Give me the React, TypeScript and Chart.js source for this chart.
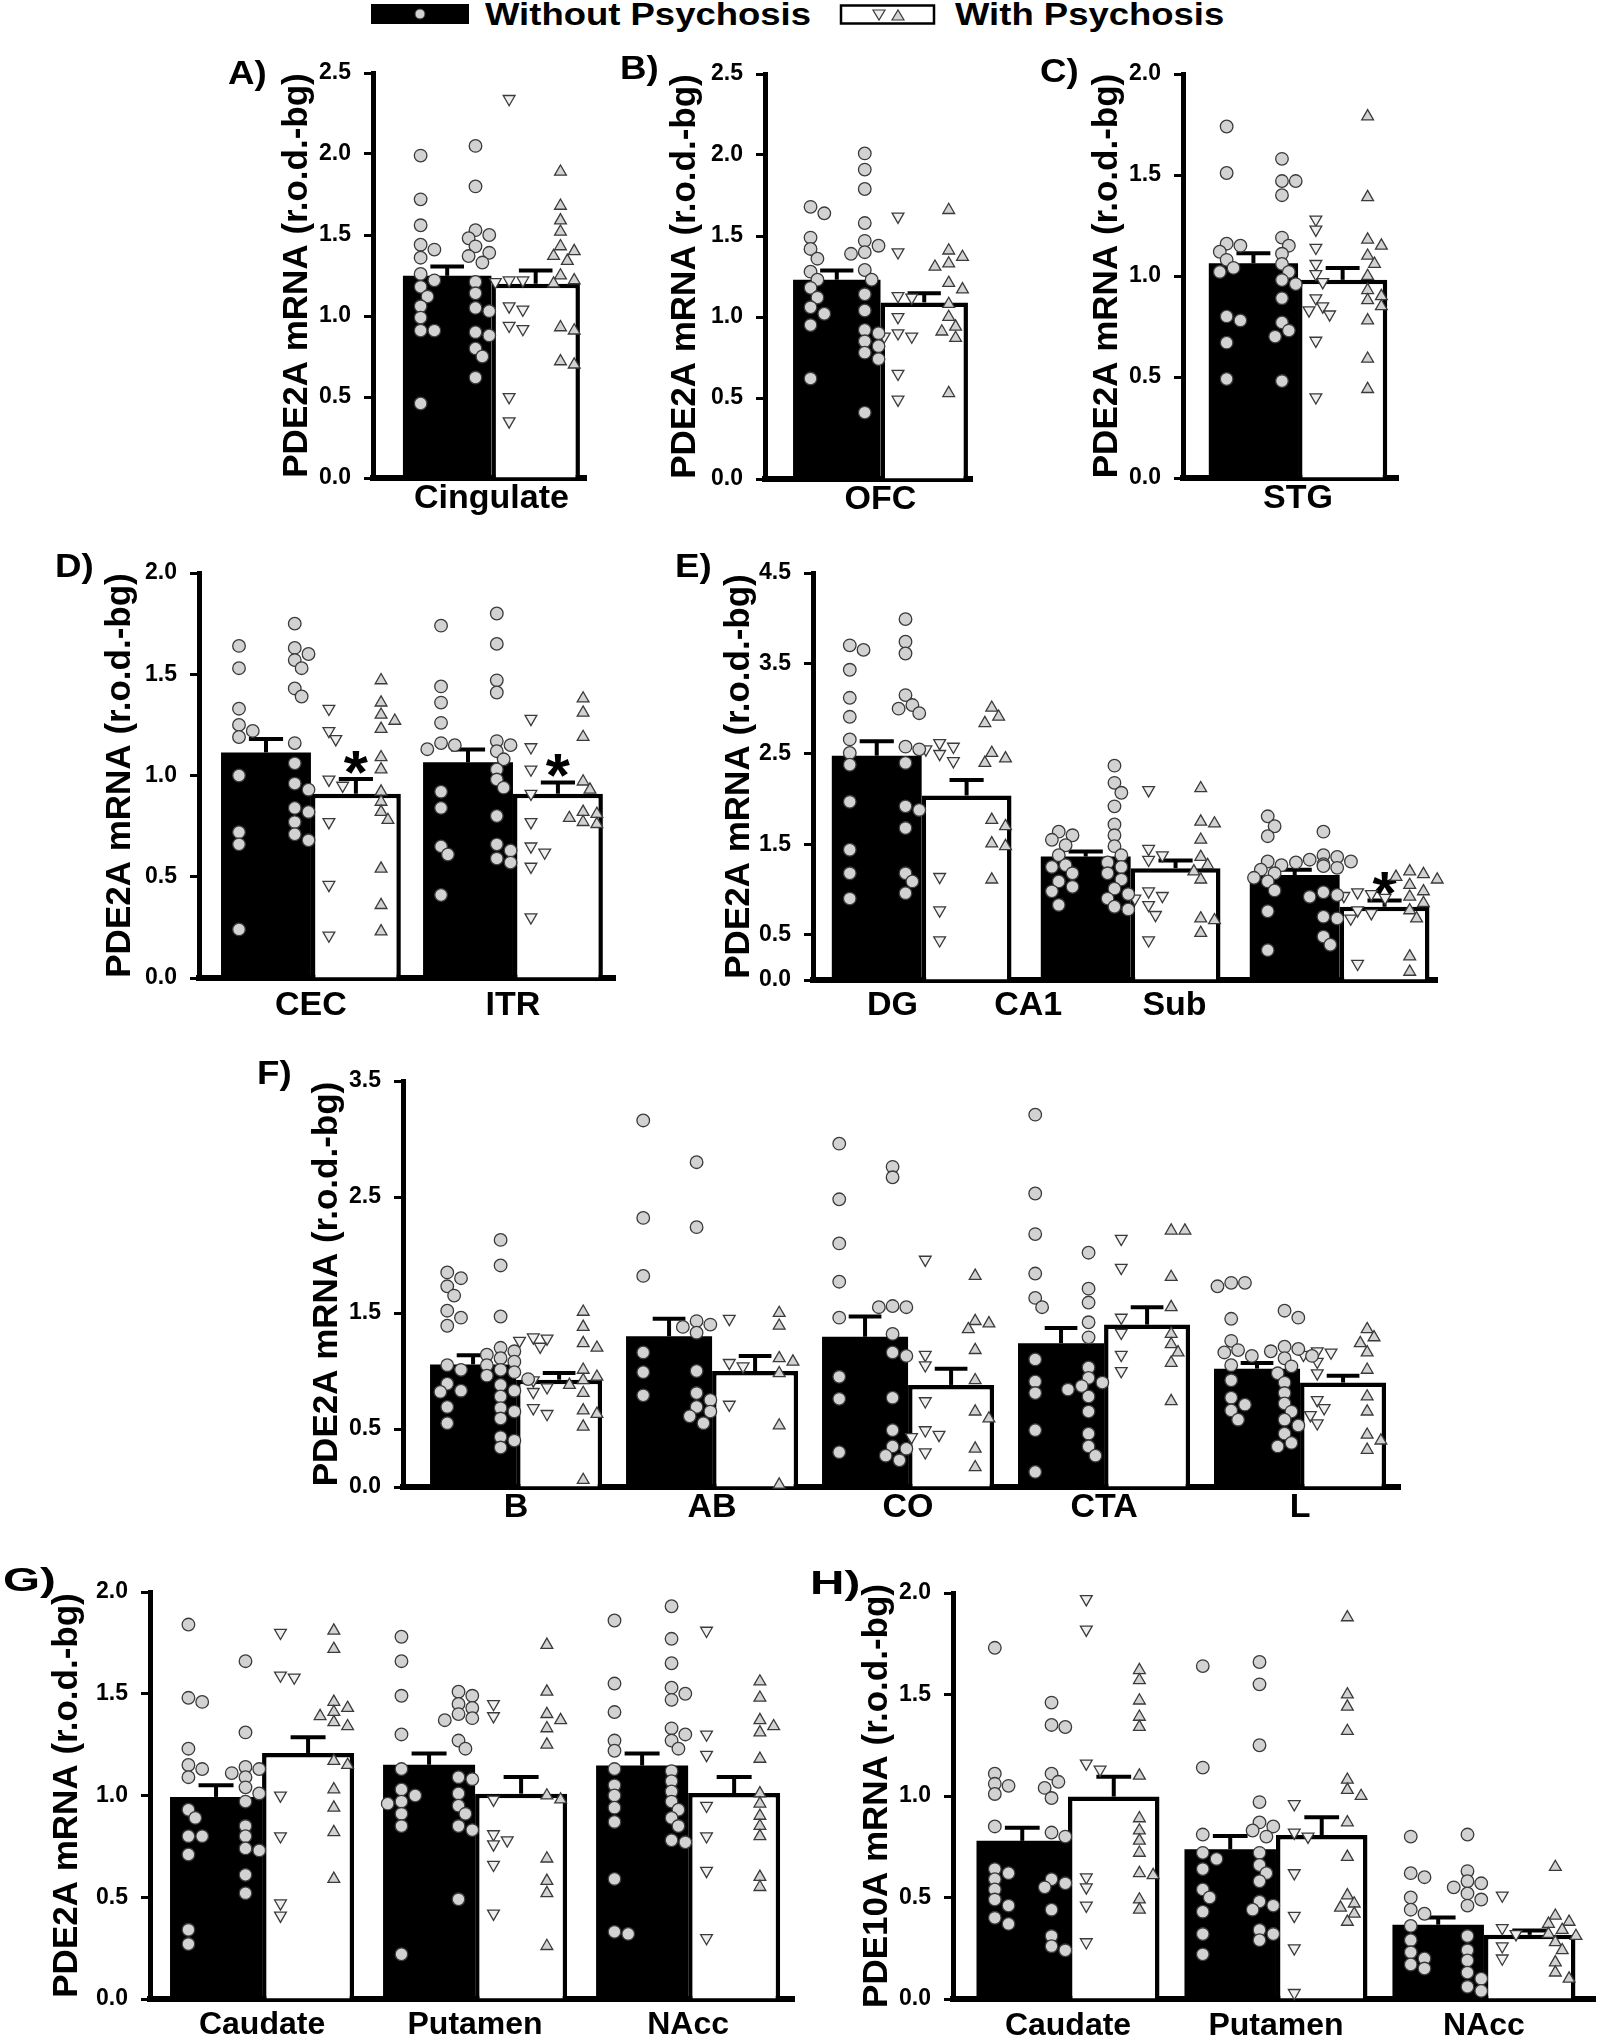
import React, { useEffect, useRef } from "react";
import { Chart, registerables } from "chart.js";
Chart.register(...registerables);

const FONT = '"Liberation Sans", Arial, Helvetica, sans-serif';

const groupWithout = "Without Psychosis";
const groupWith = "With Psychosis";
const titlePDE2A = "PDE2A mRNA (r.o.d.-bg)";
const titlePDE10A = "PDE10A mRNA (r.o.d.-bg)";

const BAR_WITHOUT = "#000000";
const BAR_WITH = "#ffffff";
const CIRCLE_FILL = "#d2d2d2";
const DOWN_FILL = "#efefef";
const UP_FILL = "#d2d2d2";
const POINT_EDGE = "#3a3a3a";

// ---------- y tick sets ----------
const ticks25 = [0, 0.5, 1.0, 1.5, 2.0, 2.5];
const ticks20 = [0, 0.5, 1.0, 1.5, 2.0];
const ticksE = [0, 0.5, 1.5, 2.5, 3.5, 4.5];
const ticksF = [0, 0.5, 1.5, 2.5, 3.5];

// ---------- A: Cingulate ----------
const catsA = ["Cingulate"];
const meanWoA = [1.248];
const semWoA = [0.058];
const meanWA = [1.199];
const semWA = [0.082];
const sigA = [false];
const circ1A = [[1.99, 1.72, 1.56, 1.44, 1.41, 1.36, 1.26, 1.22, 1.18, 1.12, 1.06, 0.99, 0.91, 0.91, 0.46]];
const circ2A = [[2.05, 1.8, 1.53, 1.5, 1.48, 1.43, 1.39, 1.37, 1.33, 1.21, 1.14, 1.05, 1.03, 0.9, 0.88, 0.8, 0.75, 0.62]];
const downA = [[2.34, 1.22, 1.22, 1.21, 1.06, 1.04, 0.94, 0.92, 0.5, 0.35]];
const upA = [[1.89, 1.68, 1.59, 1.52, 1.43, 1.4, 1.37, 1.34, 1.25, 1.22, 1.2, 0.93, 0.91, 0.72, 0.7]];

// ---------- B: OFC ----------
const catsB = ["OFC"];
const meanWoB = [1.23];
const semWoB = [0.057];
const meanWB = [1.09];
const semWB = [0.057];
const sigB = [false];
const circ1B = [[1.68, 1.64, 1.49, 1.42, 1.36, 1.28, 1.23, 1.18, 1.12, 1.06, 1.02, 0.95, 0.62]];
const circ2B = [[2.01, 1.91, 1.79, 1.58, 1.47, 1.44, 1.4, 1.39, 1.29, 1.23, 1.14, 1.04, 0.92, 0.9, 0.85, 0.82, 0.78, 0.74, 0.41]];
const downB = [[1.62, 1.4, 1.13, 1.12, 1.0, 0.9, 0.88, 0.88, 0.65, 0.49]];
const upB = [[1.66, 1.41, 1.37, 1.33, 1.31, 1.21, 1.17, 1.08, 1.0, 0.94, 0.91, 0.87, 0.53]];

// ---------- C: STG ----------
const catsC = ["STG"];
const meanWoC = [1.063];
const semWoC = [0.05];
const meanWC = [0.981];
const semWC = [0.058];
const sigC = [false];
const circ1C = [[1.74, 1.51, 1.16, 1.15, 1.12, 1.08, 1.04, 1.02, 0.8, 0.78, 0.67, 0.49]];
const circ2C = [[1.58, 1.47, 1.47, 1.4, 1.19, 1.15, 1.11, 1.06, 1.02, 0.98, 0.96, 0.89, 0.77, 0.73, 0.7, 0.48]];
const downC = [[1.28, 1.23, 1.14, 1.06, 1.01, 0.97, 0.89, 0.85, 0.83, 0.81, 0.68, 0.4]];
const upC = [[1.79, 1.39, 1.18, 1.15, 1.1, 1.06, 1.0, 0.93, 0.9, 0.88, 0.85, 0.78, 0.59, 0.44]];

// ---------- D: CEC, ITR ----------
const catsD = ["CEC", "ITR"];
const meanWoD = [1.114, 1.065];
const semWoD = [0.066, 0.063];
const meanWD = [0.91, 0.91];
const semWD = [0.073, 0.056];
const sigD = [true, true];
const circ1D = [
  [1.64, 1.53, 1.33, 1.25, 1.22, 1.19, 1.0, 0.72, 0.66, 0.24],
  [1.74, 1.44, 1.36, 1.26, 1.16, 1.15, 1.13, 0.92, 0.84, 0.65, 0.61, 0.41],
];
const circ2D = [
  [1.75, 1.63, 1.6, 1.57, 1.53, 1.43, 1.39, 1.16, 1.06, 0.96, 0.93, 0.84, 0.82, 0.77, 0.71, 0.68],
  [1.8, 1.65, 1.47, 1.41, 1.17, 1.15, 1.12, 1.08, 1.03, 0.98, 0.94, 0.8, 0.66, 0.63, 0.59, 0.57],
];
const downD = [
  [1.33, 1.22, 1.18, 0.98, 0.95, 0.77, 0.46, 0.21],
  [1.28, 1.14, 1.03, 0.91, 0.77, 0.65, 0.62, 0.55, 0.3],
];
const upD = [
  [1.47, 1.36, 1.3, 1.27, 1.23, 1.09, 1.03, 0.92, 0.87, 0.82, 0.78, 0.54, 0.36, 0.23],
  [1.38, 1.31, 1.19, 0.97, 0.93, 0.82, 0.81, 0.79, 0.77, 0.76],
];

// ---------- E: DG, CA1, Sub ----------
const catsE = ["DG", "CA1", "Sub"];
const meanWoE = [2.48, 1.365, 1.16];
const semWoE = [0.16, 0.055, 0.06];
const meanWE = [2.04, 1.236, 0.81];
const semWE = [0.17, 0.084, 0.07];
const sigE = [false, false, true];
const circ1E = [
  [3.7, 3.65, 3.43, 3.12, 2.91, 2.66, 2.51, 2.38, 1.97, 1.44, 1.18, 0.9],
  [1.64, 1.6, 1.55, 1.49, 1.38, 1.27, 1.25, 1.18, 1.09, 1.03, 0.98, 0.83],
  [1.81, 1.7, 1.59, 1.31, 1.27, 1.22, 1.18, 1.13, 1.09, 0.99, 0.76, 0.33],
];
const circ2E = [
  [3.99, 3.74, 3.61, 3.15, 3.04, 3.0, 2.95, 2.58, 2.55, 2.4, 1.92, 1.88, 1.68, 1.18, 1.09, 0.96],
  [2.37, 2.18, 2.07, 1.92, 1.72, 1.6, 1.48, 1.38, 1.3, 1.25, 1.18, 1.11, 1.01, 0.95, 0.9, 0.81, 0.78],
  [1.64, 1.38, 1.36, 1.33, 1.31, 1.3, 1.28, 1.26, 1.24, 0.97, 0.94, 0.92, 0.7, 0.68, 0.48, 0.39],
];
const downE = [
  [2.62, 2.58, 2.55, 2.5, 2.42, 1.14, 0.77, 0.44],
  [2.1, 1.45, 1.38, 1.33, 0.98, 0.93, 0.9, 0.83, 0.72, 0.44],
  [0.97, 0.95, 0.93, 0.91, 0.77, 0.74, 0.68, 0.18],
];
const upE = [
  [3.01, 2.91, 2.84, 2.51, 2.45, 2.4, 1.77, 1.7, 1.51, 1.48, 1.11],
  [2.12, 1.75, 1.73, 1.55, 1.36, 1.27, 1.2, 1.11, 0.68, 0.66, 0.52],
  [1.2, 1.17, 1.14, 1.11, 1.05, 0.98, 0.92, 0.85, 0.77, 0.68, 0.26, 0.09],
];
const labelAtE = [-0.14, 0.51, 1.21];

// ---------- F: B, AB, CO, CTA, L ----------
const catsF = ["B", "AB", "CO", "CTA", "L"];
const meanWoF = [1.057, 1.3, 1.295, 1.24, 1.02];
const semWoF = [0.078, 0.15, 0.175, 0.13, 0.05];
const meanWF = [0.925, 1.0, 0.88, 1.4, 0.9];
const semWF = [0.058, 0.13, 0.14, 0.15, 0.06];
const sigF = [false, false, false, false, false];
const circ1F = [
  [1.85, 1.8, 1.73, 1.65, 1.52, 1.46, 1.39, 1.05, 1.01, 0.89, 0.83, 0.82, 0.69, 0.55],
  [3.16, 2.32, 1.82, 1.16, 0.99, 0.79],
  [2.96, 2.48, 2.1, 1.77, 1.46, 0.95, 0.76, 0.3],
  [3.21, 2.53, 2.18, 1.84, 1.63, 1.55, 1.1, 0.91, 0.81, 0.49, 0.13],
  [1.76, 1.76, 1.73, 1.45, 1.26, 1.18, 1.16, 1.13, 1.05, 0.92, 0.77, 0.71, 0.66, 0.58],
];
const circ2F = [
  [2.13, 1.91, 1.47, 1.2, 1.17, 1.14, 1.11, 1.08, 1.05, 1.01, 0.99, 0.96, 0.93, 0.88, 0.83, 0.78, 0.68, 0.65, 0.59, 0.43, 0.4, 0.34],
  [2.8, 2.24, 1.43, 1.4, 1.38, 1.33, 1.0, 0.81, 0.75, 0.69, 0.65, 0.61, 0.55],
  [2.76, 2.67, 1.56, 1.55, 1.55, 1.32, 1.16, 1.13, 0.77, 0.49, 0.35, 0.33, 0.27, 0.23],
  [2.02, 1.71, 1.59, 1.42, 1.29, 1.03, 0.94, 0.9, 0.87, 0.84, 0.78, 0.65, 0.46, 0.35, 0.27],
  [1.52, 1.46, 1.21, 1.19, 1.17, 1.13, 1.11, 1.04, 0.98, 0.9, 0.81, 0.72, 0.65, 0.58, 0.53, 0.46, 0.38, 0.35],
];
const downF = [
  [1.29, 1.28, 1.26, 1.21, 0.92, 0.86, 0.82, 0.68, 0.63],
  [1.45, 1.07, 1.04, 0.71],
  [1.96, 1.14, 1.05, 0.74, 0.49, 0.45, 0.43, 0.3],
  [2.14, 1.89, 1.46, 1.33, 1.14, 1.0],
  [1.17, 1.16, 1.14, 1.08, 0.98, 0.75, 0.68, 0.62, 0.55],
];
const upF = [
  [1.51, 1.38, 1.24, 1.2, 1.01, 0.95, 0.92, 0.88, 0.81, 0.66, 0.63, 0.52, 0.06],
  [1.5, 1.39, 1.11, 1.08, 0.98, 0.53, 0.02],
  [1.82, 1.43, 1.41, 1.36, 1.18, 0.92, 0.65, 0.59, 0.33, 0.17],
  [2.21, 2.21, 1.81, 1.55, 1.32, 1.23, 1.16, 1.07, 0.74],
  [1.36, 1.29, 1.24, 1.16, 1.01, 0.78, 0.65, 0.45, 0.4, 0.32],
];

// ---------- G: PDE2A striatum ----------
const catsStriatum = ["Caudate", "Putamen", "NAcc"];
const meanWoG = [0.993, 1.151, 1.147];
const semWoG = [0.057, 0.055, 0.059];
const meanWG = [1.209, 1.009, 1.012];
const semWG = [0.077, 0.082, 0.079];
const sigG = [false, false, false];
const circ1G = [
  [1.84, 1.48, 1.46, 1.23, 1.15, 1.13, 1.09, 0.93, 0.89, 0.8, 0.8, 0.71, 0.34, 0.27],
  [1.78, 1.66, 1.49, 1.3, 1.13, 1.03, 1.0, 0.97, 0.96, 0.91, 0.85, 0.22],
  [1.86, 1.55, 1.41, 1.27, 1.22, 1.13, 1.05, 1.0, 0.94, 0.87, 0.59, 0.33, 0.32],
];
const circ2G = [
  [1.66, 1.31, 1.14, 1.13, 1.11, 1.09, 1.04, 1.01, 0.97, 0.85, 0.8, 0.74, 0.73, 0.61, 0.52],
  [1.51, 1.49, 1.45, 1.43, 1.4, 1.38, 1.37, 1.27, 1.23, 1.09, 1.08, 1.01, 0.95, 0.91, 0.85, 0.83, 0.49],
  [1.93, 1.77, 1.65, 1.53, 1.5, 1.47, 1.33, 1.3, 1.27, 1.23, 1.12, 1.07, 1.02, 0.97, 0.93, 0.89, 0.85, 0.78, 0.77],
];
const downG = [
  [1.8, 1.59, 1.58, 1.0, 0.8, 0.47, 0.41],
  [1.45, 1.39, 0.98, 0.81, 0.78, 0.76, 0.66, 0.42],
  [1.81, 1.3, 1.2, 0.95, 0.8, 0.63, 0.3],
];
const upG = [
  [1.81, 1.72, 1.46, 1.43, 1.41, 1.39, 1.36, 1.34, 1.17, 1.15, 1.03, 0.94, 0.82, 0.59],
  [1.74, 1.51, 1.4, 1.37, 1.33, 1.25, 1.0, 0.98, 0.69, 0.58, 0.52, 0.26],
  [1.56, 1.48, 1.37, 1.34, 1.31, 1.18, 1.01, 0.96, 0.9, 0.85, 0.8, 0.6, 0.55],
];

// ---------- H: PDE10A striatum ----------
const meanWoH = [0.779, 0.738, 0.366];
const semWoH = [0.065, 0.065, 0.036];
const meanWH = [0.997, 0.808, 0.316];
const semWH = [0.098, 0.087, 0.022];
const sigH = [false, false, false];
const circ1H = [
  [1.73, 1.11, 1.06, 1.05, 1.01, 0.85, 0.64, 0.62, 0.59, 0.54, 0.49, 0.46, 0.4, 0.37],
  [1.64, 1.14, 0.81, 0.72, 0.69, 0.64, 0.54, 0.5, 0.43, 0.32, 0.22],
  [0.8, 0.62, 0.6, 0.5, 0.44, 0.42, 0.36, 0.29, 0.23, 0.2, 0.17, 0.15],
];
const circ2H = [
  [1.46, 1.35, 1.34, 1.11, 1.07, 1.04, 0.99, 0.82, 0.8, 0.59, 0.57, 0.55, 0.44, 0.31, 0.26, 0.24],
  [1.66, 1.55, 1.25, 0.97, 0.87, 0.85, 0.83, 0.8, 0.72, 0.66, 0.62, 0.58, 0.48, 0.46, 0.44, 0.34, 0.32, 0.29],
  [0.81, 0.63, 0.58, 0.57, 0.55, 0.52, 0.49, 0.46, 0.31, 0.24, 0.19, 0.13, 0.1, 0.06, 0.04],
];
const downH = [
  [1.97, 1.82, 1.16, 1.13, 0.6, 0.55, 0.46, 0.28],
  [0.96, 0.82, 0.8, 0.62, 0.41, 0.25, 0.03],
  [0.51, 0.35, 0.32, 0.26, 0.2],
];
const upH = [
  [1.62, 1.57, 1.47, 1.39, 1.34, 1.1, 0.89, 0.83, 0.78, 0.72, 0.62, 0.61, 0.49, 0.44],
  [1.88, 1.5, 1.44, 1.32, 1.08, 1.03, 1.0, 0.87, 0.7, 0.51, 0.47, 0.45, 0.42, 0.38],
  [0.65, 0.41, 0.38, 0.37, 0.34, 0.32, 0.31, 0.28, 0.24, 0.18, 0.13, 0.1],
];

// ---------- layout ----------
type Panel = {
  letter: string;
  letterLeft: number;
  letterTop: number;
  letterScale: number;
  cats: string[];
  yTitle: string;
  yMax: number;
  yTicks: number[];
  meanWo: number[];
  semWo: number[];
  meanW: number[];
  semW: number[];
  sig: boolean[];
  c1: number[][];
  c2: number[][];
  dn: number[][];
  up: number[][];
  left: number;
  right: number;
  top: number;
  bottom: number;
  xMin: number;
  xMax: number;
  cp: number;
  labelAt?: number[];
  titleGap: number;
  labelPad: number;
  labelSize: number;
};

const panels: Panel[] = [
  {
    letter: "A)", letterLeft: 228, letterTop: 55, letterScale: 1.08,
    cats: catsA, yTitle: titlePDE2A, yMax: 2.5, yTicks: ticks25,
    meanWo: meanWoA, semWo: semWoA, meanW: meanWA, semW: semWA, sig: sigA,
    c1: circ1A, c2: circ2A, dn: downA, up: upA,
    left: 373, right: 586, top: 73, bottom: 478, xMin: -0.556, xMax: 0.444, cp: 0.831,
    titleGap: 76, labelPad: 0, labelSize: 34,
  },
  {
    letter: "B)", letterLeft: 620, letterTop: 50, letterScale: 1.08,
    cats: catsB, yTitle: titlePDE2A, yMax: 2.5, yTicks: ticks25,
    meanWo: meanWoB, semWo: semWoB, meanW: meanWB, semW: semWB, sig: sigB,
    c1: circ1B, c2: circ2B, dn: downB, up: upB,
    left: 765, right: 972, top: 74, bottom: 479, xMin: -0.558, xMax: 0.442, cp: 0.845,
    titleGap: 80, labelPad: 0, labelSize: 34,
  },
  {
    letter: "C)", letterLeft: 1040, letterTop: 53, letterScale: 1.08,
    cats: catsC, yTitle: titlePDE2A, yMax: 2.0, yTicks: ticks20,
    meanWo: meanWoC, semWo: semWoC, meanW: meanWC, semW: semWC, sig: sigC,
    c1: circ1C, c2: circ2C, dn: downC, up: upC,
    left: 1183, right: 1398, top: 74, bottom: 478, xMin: -0.535, xMax: 0.465, cp: 0.83,
    titleGap: 76, labelPad: 0, labelSize: 34,
  },
  {
    letter: "D)", letterLeft: 55, letterTop: 548, letterScale: 1.08,
    cats: catsD, yTitle: titlePDE2A, yMax: 2.0, yTicks: ticks20,
    meanWo: meanWoD, semWo: semWoD, meanW: meanWD, semW: semWD, sig: sigD,
    c1: circ1D, c2: circ2D, dn: downD, up: upD,
    left: 199, right: 615, top: 573, bottom: 978, xMin: -0.554, xMax: 1.505, cp: 0.89,
    titleGap: 79, labelPad: 7, labelSize: 34,
  },
  {
    letter: "E)", letterLeft: 675, letterTop: 548, letterScale: 1.08,
    cats: catsE, yTitle: titlePDE2A, yMax: 4.5, yTicks: ticksE,
    meanWo: meanWoE, semWo: semWoE, meanW: meanWE, semW: semWE, sig: sigE,
    c1: circ1E, c2: circ2E, dn: downE, up: upE,
    left: 813, right: 1437, top: 573, bottom: 980, xMin: -0.52, xMax: 2.466, cp: 0.86,
    labelAt: labelAtE, titleGap: 74, labelPad: 5, labelSize: 34,
  },
  {
    letter: "F)", letterLeft: 257, letterTop: 1055, letterScale: 1.08,
    cats: catsF, yTitle: titlePDE2A, yMax: 3.5, yTicks: ticksF,
    meanWo: meanWoF, semWo: semWoF, meanW: meanWF, semW: semWF, sig: sigF,
    c1: circ1F, c2: circ2F, dn: downF, up: upF,
    left: 403, right: 1400, top: 1081, bottom: 1487, xMin: -0.577, xMax: 4.51, cp: 0.878,
    titleGap: 76, labelPad: 0, labelSize: 34,
  },
  {
    letter: "G)", letterLeft: 3, letterTop: 1562, letterScale: 1.4,
    cats: catsStriatum, yTitle: titlePDE2A, yMax: 2.0, yTicks: ticks20,
    meanWo: meanWoG, semWo: semWoG, meanW: meanWG, semW: semWG, sig: sigG,
    c1: circ1G, c2: circ2G, dn: downG, up: upG,
    left: 150, right: 794, top: 1592, bottom: 1999, xMin: -0.526, xMax: 2.497, cp: 0.864,
    titleGap: 83, labelPad: 7, labelSize: 32,
  },
  {
    letter: "H)", letterLeft: 810, letterTop: 1565, letterScale: 1.4,
    cats: catsStriatum, yTitle: titlePDE10A, yMax: 2.0, yTicks: ticks20,
    meanWo: meanWoH, semWo: semWoH, meanW: meanWH, semW: semWH, sig: sigH,
    c1: circ1H, c2: circ2H, dn: downH, up: upH,
    left: 953, right: 1595, top: 1593, bottom: 1999, xMin: -0.553, xMax: 2.534, cp: 0.88,
    titleGap: 76, labelPad: 8, labelSize: 32,
  },
];

const YW = 112;
const PT = 28;
const PR = 14;
const XH = 56;

// spread overlapping points sideways (in pixels), returned in x-axis units
function swarm(vals: number[], pxY: number, pxX: number): number[] {
  const d = 12.5;
  const placed: { dx: number; v: number }[] = [];
  const out: number[] = [];
  for (const v of vals) {
    let chosen = 0;
    for (let k = 0; k < 9; k++) {
      const cand = k === 0 ? 0 : (k % 2 ? 1 : -1) * Math.ceil(k / 2) * d * 0.55;
      const ok = placed.every((q) => Math.hypot(q.dx - cand, (q.v - v) * pxY) >= d * 0.8);
      if (ok) {
        chosen = cand;
        break;
      }
    }
    placed.push({ dx: chosen, v });
    out.push(chosen / pxX);
  }
  return out;
}

const errorBarPlugin = {
  id: "semBars",
  afterDatasetDraw(chart: any, args: any) {
    const ds = chart.data.datasets[args.index];
    if (!ds.sem) return;
    const ctx = chart.ctx;
    const yScale = chart.scales.y;
    args.meta.data.forEach((bar: any, i: number) => {
      const mean = ds.data[i].y;
      const top = yScale.getPixelForValue(mean + ds.sem[i]);
      const x = bar.x;
      const w = bar.width;
      ctx.save();
      ctx.strokeStyle = "#000";
      ctx.lineWidth = 4;
      ctx.lineCap = "butt";
      ctx.beginPath();
      ctx.moveTo(x, bar.y);
      ctx.lineTo(x, top);
      ctx.stroke();
      ctx.beginPath();
      ctx.moveTo(x - w * 0.19, top);
      ctx.lineTo(x + w * 0.19, top);
      ctx.stroke();
      if (ds.sig && ds.sig[i]) {
        ctx.fillStyle = "#000";
        ctx.font = `bold 62px ${FONT}`;
        ctx.textAlign = "center";
        ctx.textBaseline = "alphabetic";
        ctx.fillText("*", x, top - 21 + 35);
      }
      ctx.restore();
    });
  },
};

function PanelChart({ p }: { p: Panel }) {
  const ref = useRef<HTMLCanvasElement | null>(null);
  const w = YW + (p.right - p.left) + PR;
  const h = PT + (p.bottom - p.top) + XH;

  useEffect(() => {
    if (!ref.current) return;
    const pxY = (p.bottom - p.top) / p.yMax;
    const pxX = (p.right - p.left) / (p.xMax - p.xMin);
    const barW = p.cp / 2;
    const cWo = -p.cp / 4;
    const cW = p.cp / 4;
    const cols = [
      { vals: p.c1, off: cWo - 0.3 * barW, style: "circle", rot: 0, fill: CIRCLE_FILL, r: 6.3, label: groupWithout },
      { vals: p.c2, off: cWo + 0.32 * barW, style: "circle", rot: 0, fill: CIRCLE_FILL, r: 6.3, label: groupWithout },
      { vals: p.dn, off: cW - 0.3 * barW, style: "triangle", rot: 180, fill: DOWN_FILL, r: 6.8, label: groupWith },
      { vals: p.up, off: cW + 0.28 * barW, style: "triangle", rot: 0, fill: UP_FILL, r: 6.8, label: groupWith },
    ];
    const scatterSets = cols.map((c) => {
      const data: { x: number; y: number }[] = [];
      c.vals.forEach((vals, gi) => {
        const dx = swarm(vals, pxY, pxX);
        vals.forEach((v, k) => data.push({ x: gi + c.off + dx[k], y: v }));
      });
      return {
        type: "scatter",
        label: c.label,
        data,
        pointStyle: c.style,
        rotation: c.rot,
        pointRotation: c.rot,
        pointRadius: c.r,
        pointHoverRadius: c.r,
        pointBackgroundColor: c.fill,
        pointBorderColor: POINT_EDGE,
        pointBorderWidth: 1.3,
        showLine: false,
        order: 1,
        clip: false,
        xAxisID: "x",
        yAxisID: "y",
      };
    });
    const barSets = [
      {
        type: "bar",
        label: groupWithout,
        data: p.meanWo.map((m, i) => ({ x: i, y: m })),
        sem: p.semWo,
        sig: null,
        backgroundColor: BAR_WITHOUT,
        borderColor: "#000",
        borderWidth: 0,
        categoryPercentage: p.cp,
        barPercentage: 1,
        order: 2,
        xAxisID: "x",
        yAxisID: "y",
      },
      {
        type: "bar",
        label: groupWith,
        data: p.meanW.map((m, i) => ({ x: i, y: m })),
        sem: p.semW,
        sig: p.sig,
        backgroundColor: BAR_WITH,
        borderColor: "#000",
        borderWidth: 4.5,
        categoryPercentage: p.cp,
        barPercentage: 1,
        order: 2,
        xAxisID: "x",
        yAxisID: "y",
      },
    ];
    const labelAt = p.labelAt || p.cats.map((_, i) => i);
    const chart = new Chart(ref.current, {
      type: "bar",
      data: { datasets: [...barSets, ...scatterSets] as any },
      plugins: [errorBarPlugin as any],
      options: {
        responsive: false,
        animation: false,
        devicePixelRatio: 1,
        events: [],
        layout: { padding: { top: PT, right: PR, left: 0, bottom: 0 } },
        plugins: { legend: { display: false }, tooltip: { enabled: false } },
        scales: {
          x: {
            type: "linear",
            display: false,
            offset: false,
            min: p.xMin,
            max: p.xMax,
            afterBuildTicks: (s: any) => {
              s.ticks = p.cats.map((_, i) => ({ value: i }));
            },
          },
          xl: {
            type: "linear",
            position: "bottom",
            offset: false,
            min: p.xMin,
            max: p.xMax,
            z: 1,
            afterBuildTicks: (s: any) => {
              s.ticks = labelAt.map((v) => ({ value: v }));
            },
            afterFit: (s: any) => {
              s.height = XH;
            },
            ticks: {
              autoSkip: false,
              maxRotation: 0,
              minRotation: 0,
              color: "#000",
              padding: p.labelPad,
              font: { family: FONT, size: p.labelSize, weight: "bold" },
              callback: (_v: any, i: number) => p.cats[i],
            },
            grid: { drawOnChartArea: false, drawTicks: false, offset: false, color: "#000" },
            border: { display: true, width: 6, color: "#000" },
          },
          y: {
            type: "linear",
            position: "left",
            min: 0,
            max: p.yMax,
            afterBuildTicks: (s: any) => {
              s.ticks = p.yTicks.map((v) => ({ value: v }));
            },
            afterFit: (s: any) => {
              s.width = YW;
            },
            ticks: {
              color: "#000",
              padding: 13,
              font: { family: FONT, size: 23, weight: "bold" },
              callback: (v: any) => Number(v).toFixed(1),
            },
            grid: { drawOnChartArea: false, drawTicks: true, tickLength: 9, tickWidth: 3, color: "#000" },
            border: { display: true, width: 5, color: "#000" },
            title: {
              display: true,
              text: p.yTitle,
              color: "#000",
              font: { family: FONT, size: 35, weight: "bold" },
              padding: { top: Math.max(0, YW - p.titleGap - 21), bottom: 0 },
            },
          },
        },
      } as any,
    });
    return () => chart.destroy();
  }, []);

  return (
    <canvas
      ref={ref}
      width={w}
      height={h}
      style={{ position: "absolute", left: p.left - YW, top: p.top - PT, width: w, height: h }}
    />
  );
}

function Legend() {
  const textStyle: React.CSSProperties = {
    position: "absolute",
    top: -2,
    fontSize: 32,
    fontWeight: "bold",
    lineHeight: "32px",
    whiteSpace: "nowrap",
    transform: "scaleX(1.14)",
    transformOrigin: "left top",
    color: "#000",
  };
  return (
    <>
      <svg style={{ position: "absolute", left: 0, top: 0 }} width={1602} height={40}>
        <rect x={371} y={4} width={98} height={20} fill={BAR_WITHOUT} />
        <circle cx={420} cy={14} r={5} fill={CIRCLE_FILL} stroke={POINT_EDGE} strokeWidth={1} />
        <rect x={841} y={5.5} width={93} height={18} fill={BAR_WITH} stroke="#000" strokeWidth={2.5} />
        <polygon points="873,10 885,10 879,20" fill={DOWN_FILL} stroke={POINT_EDGE} strokeWidth={1.2} />
        <polygon points="892,20 904,20 898,10" fill={UP_FILL} stroke={POINT_EDGE} strokeWidth={1.2} />
      </svg>
      <div style={{ ...textStyle, left: 485 }}>{groupWithout}</div>
      <div style={{ ...textStyle, left: 955 }}>{groupWith}</div>
    </>
  );
}

export default function App() {
  return (
    <div
      style={{
        position: "absolute",
        left: 0,
        top: 0,
        width: 1602,
        height: 2040,
        overflow: "hidden",
        background: "#fff",
        fontFamily: FONT,
      }}
    >
      <Legend />
      {panels.map((p) => (
        <React.Fragment key={p.letter}>
          <PanelChart p={p} />
          <div
            style={{
              position: "absolute",
              left: p.letterLeft,
              top: p.letterTop,
              fontSize: 34,
              fontWeight: "bold",
              lineHeight: "34px",
              transform: `scaleX(${p.letterScale})`,
              transformOrigin: "left top",
              whiteSpace: "nowrap",
              color: "#000",
            }}
          >
            {p.letter}
          </div>
        </React.Fragment>
      ))}
    </div>
  );
}
